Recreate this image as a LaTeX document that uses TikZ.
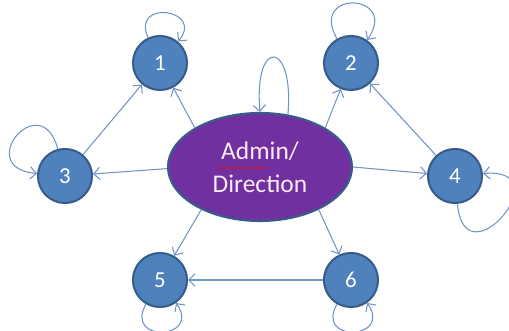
\documentclass[tikz,border=0pt]{standalone}
\usepackage{fontspec}
\setmainfont{Carlito}
\usetikzlibrary{arrows.meta,shapes.geometric,decorations.pathmorphing}
\definecolor{nodeblue}{HTML}{4F81BD}
\definecolor{rimblue}{HTML}{385D8A}
\definecolor{linkblue}{HTML}{7293C6}
\definecolor{adminpurple}{HTML}{7030A0}
\begin{document}
\begin{tikzpicture}[
    state/.style={circle, fill=nodeblue, draw=rimblue, line width=1.2pt, minimum size=1.08cm, inner sep=0pt, text=white, font=\fontsize{13}{15}\selectfont},
    link/.style={draw=linkblue, line width=0.6pt, -{Straight Barb[length=3.5pt, width=7pt]}}
  ]
  \useasboundingbox (0, 0) rectangle (10.18, 6.62);
  \node[ellipse, fill=adminpurple, draw=rimblue, line width=1.2pt, minimum width=3.68cm, minimum height=2.16cm, inner sep=0pt, text=white!92!magenta, align=center, font=\fontsize{14.5}{18.7}\selectfont] (admin) at (5.2, 3.28) {Admin/\\Direction};
  \draw[red, line width=0.3pt, decorate, decoration={snake, amplitude=0.35pt, segment length=2.2pt}] ([xshift=-0.86cm, yshift=-0.02cm]admin.center) -- ([xshift=0.14cm, yshift=-0.02cm]admin.center);
  \node[state] (s1) at (3.2, 5.36) {1};
  \node[state] (s2) at (7.02, 5.36) {2};
  \node[state] (s3) at (1.3, 3.1) {3};
  \node[state] (s4) at (9.1, 3.1) {4};
  \node[state] (s5) at (3.2, 1.02) {5};
  \node[state] (s6) at (7.02, 1.02) {6};
  \draw[link] (admin.149) -- (s1);
  \draw[link] (admin.31) -- (s2);
  \draw[link] (admin.181) -- (s3);
  \draw[link] (admin.east) -- (s4);
  \draw[link] (admin.216) -- (s5);
  \draw[link] (admin.-36) -- (s6);
  \draw[link] (s3) -- (s1);
  \draw[link] (s4) -- (s2);
  \draw[link] (s6) -- (s5);
  \draw[link] (s1) to[out=115, in=50, min distance=8.5mm] (s1);
  \draw[link] (s2) to[out=120, in=55, min distance=1.15cm] (s2);
  \draw[link] (s3) to[out=105, in=175, min distance=1.3cm] (s3);
  \draw[link] (s4) to[out=-85, in=5, min distance=1.6cm] (s4);
  \draw[link] (s5) to[out=-120, in=-55, min distance=9mm] (s5);
  \draw[link] (s6) to[out=-120, in=-55, min distance=9mm] (s6);
  \draw[link] (admin.62) to[out=85, in=95, min distance=1.5cm] (admin.90);
\end{tikzpicture}
\end{document}
